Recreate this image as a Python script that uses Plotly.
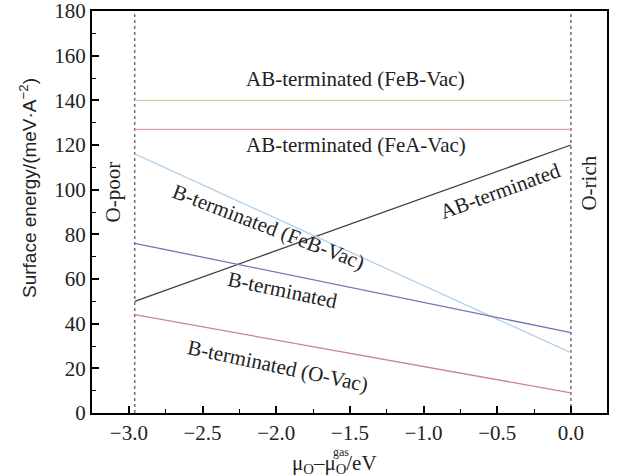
import plotly.graph_objects as go

# Data (x endpoints: O-poor limit to O-rich limit)
x_ends = [-2.96, 0.0]
series_names = ["AB-terminated (FeB-Vac)", "AB-terminated (FeA-Vac)", "AB-terminated",
                "B-terminated (FeB-Vac)", "B-terminated", "B-terminated (O-Vac)"]
feb_vac_ab = [140, 140]
fea_vac_ab = [127, 127]
ab_term = [50, 120]
feb_vac_b = [116, 27]
b_term = [76, 36]
ovac_b = [44, 9]
series_values = [feb_vac_ab, fea_vac_ab, ab_term, feb_vac_b, b_term, ovac_b]
colors = ["#b8dca4", "#e4a0a4", "#3c3c3c", "#b4d2ea", "#7474b4", "#cc8298"]

limit_x = [-2.96, 0.0]
x_ticks = [-3.0, -2.5, -2.0, -1.5, -1.0, -0.5, 0.0]
y_ticks = [0, 20, 40, 60, 80, 100, 120, 140, 160, 180]

FONT = "Liberation Serif"
SANS = "Liberation Sans"
TXT = "#222222"

fig = go.Figure()
for xv in limit_x:
    fig.add_trace(go.Scatter(x=[xv, xv], y=[0, 180], mode="lines",
                             line=dict(color="#777777", width=1.6, dash="dot"),
                             showlegend=False, hoverinfo="skip"))
for name, vals, c in zip(series_names, series_values, colors):
    fig.add_trace(go.Scatter(x=x_ends, y=vals, mode="lines", name=name,
                             line=dict(color=c, width=1.3), showlegend=False))

labels = [
    ("AB-terminated (FeB-Vac)", -1.46, 149.6, 0),
    ("AB-terminated (FeA-Vac)", -1.46, 119.8, 0),
    ("AB-terminated", -0.48, 99.5, -20),
    ("B-terminated (FeB-Vac)", -2.05, 83.5, 21),
    ("B-terminated", -1.96, 55.0, 12),
    ("B-terminated (O-Vac)", -1.99, 21.0, 12),
    ("O-poor", -3.11, 99.0, -90),
    ("O-rich", 0.12, 103.0, -90),
]
for t, x, y, a in labels:
    fig.add_annotation(x=x, y=y, text=t, showarrow=False, textangle=a,
                       font=dict(family=FONT, size=21, color=TXT))

# axis titles as annotations (positioned like the reference)
fig.add_annotation(xref="paper", yref="paper", x=0, y=0.5, xshift=-64, yshift=24,
                   xanchor="center", yanchor="middle",
                   text="Surface energy/(meV·A<sup>−2</sup>)", textangle=-90,
                   showarrow=False, font=dict(family=SANS, size=19, color=TXT))
fig.add_annotation(xref="paper", yref="paper", x=0.5, y=0, yshift=-51, xshift=-15,
                   xanchor="center", yanchor="middle",
                   text="μ<sub>O</sub>–μ<sub>O</sub>/eV",
                   showarrow=False, font=dict(family=FONT, size=21, color=TXT))
fig.add_annotation(xref="paper", yref="paper", x=0.5, y=0, yshift=-39, xshift=-9,
                   xanchor="center", yanchor="middle", text="gas",
                   showarrow=False, font=dict(family=FONT, size=12, color=TXT))

axis_common = dict(showline=True, linecolor="black", linewidth=2, mirror=True,
                   ticks="inside", ticklen=7, tickwidth=1.5, tickcolor="black",
                   showgrid=False, zeroline=False, automargin=False,
                   ticklabeloverflow="allow",
                   tickfont=dict(family=FONT, size=21, color=TXT))

fig.update_xaxes(range=[-3.25, 0.245], tickvals=x_ticks, tickformat=".1f",
                 minor=dict(ticks="inside", ticklen=4, tickwidth=1.2, tickcolor="black", dtick=0.25, tick0=0),
                 **axis_common)
fig.update_yaxes(range=[0, 180], tickvals=y_ticks,
                 minor=dict(ticks="inside", ticklen=4, tickwidth=1.2, tickcolor="black", dtick=10, tick0=0),
                 **axis_common)

fig.update_layout(width=620, height=476, margin=dict(l=92, r=13, t=11, b=63),
                  plot_bgcolor="white", paper_bgcolor="white", showlegend=False)

fig.write_html("out.html", config={"displayModeBar": False},
               post_script="document.body.style.margin='0';document.body.style.padding='0';")
